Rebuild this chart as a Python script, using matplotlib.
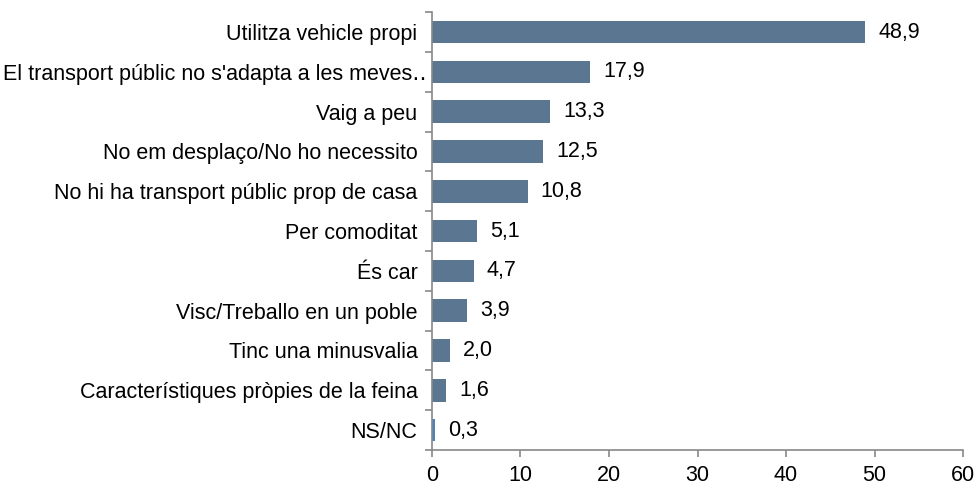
import matplotlib
matplotlib.use("Agg")
import matplotlib.pyplot as plt
import numpy as np

plt.rcParams['font.family'] = ['Liberation Sans', 'DejaVu Sans']

categories = [
    "Utilitza vehicle propi",
    "El transport públic no s'adapta a les meves\u2025",
    "Vaig a peu",
    "No em desplaço/No ho necessito",
    "No hi ha transport públic prop de casa",
    "Per comoditat",
    "És car",
    "Visc/Treballo en un poble",
    "Tinc una minusvalia",
    "Característiques pròpies de la feina",
    "NS/NC",
]
values = [48.9, 17.9, 13.3, 12.5, 10.8, 5.1, 4.7, 3.9, 2.0, 1.6, 0.3]

fs = 15.5

fig = plt.figure(figsize=(9.78, 4.88), dpi=100)
ax = fig.add_axes([0.4417, 0.078, 0.543, 0.897])

y = np.arange(len(categories))
colors = ['#5B7690'] * (len(values) - 1) + ['#4F81BD']
ax.barh(y, values, height=0.57, color=colors, zorder=2)

for yi, v in zip(y, values):
    ax.text(v + 1.5, yi, f"{v:.1f}".replace('.', ','), va='center', ha='left',
            fontsize=fs, color='black')

ax.set_ylim(len(categories) - 0.5, -0.5)
ax.set_xlim(0, 60)
ax.set_xticks(range(0, 61, 10))

ax.set_yticks(y)
ax.set_yticklabels(categories, fontsize=fs)
ax.tick_params(axis='y', length=0, pad=10.5)
ax.set_yticks(np.arange(-0.5, len(categories), 1), minor=True)
ax.tick_params(axis='y', which='minor', length=5, color='#888888', width=1.2)
ax.tick_params(axis='x', length=5, color='#888888', width=1.2, labelsize=fs, pad=6)

# long label overflows towards the axis like in the original
ax.get_yticklabels()[1].set_x(0.017)

for s in ['top', 'right']:
    ax.spines[s].set_visible(False)
for s in ['left', 'bottom']:
    ax.spines[s].set_color('#888888')
    ax.spines[s].set_linewidth(1.2)

fig.savefig("out.png", dpi=100)
